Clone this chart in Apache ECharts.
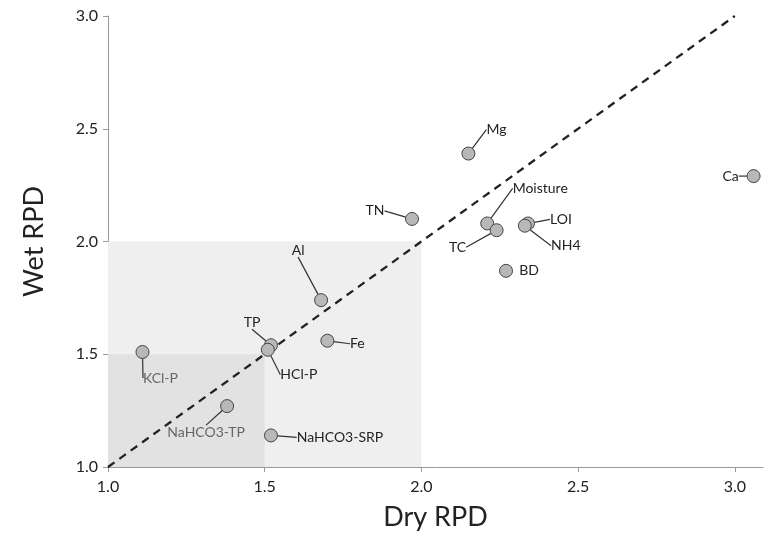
<!DOCTYPE html>
<html>
<head>
<meta charset="utf-8">
<script src="https://cdn.jsdelivr.net/npm/echarts@6/dist/echarts.min.js"></script>
<style>html,body{margin:0;padding:0;background:#fff}#c{width:771px;height:546px}</style>
</head>
<body>
<div id="c"></div>
<script>
// Data
var names = ['TN','Mg','Moisture','TC','LOI','NH4','BD','Ca','Al','TP','HCl-P','Fe','KCl-P','NaHCO3-TP','NaHCO3-SRP'];
var dryRPD = [1.97, 2.15, 2.21, 2.24, 2.34, 2.33, 2.27, 3.06, 1.68, 1.52, 1.51, 1.70, 1.11, 1.38, 1.52];
var wetRPD = [2.10, 2.39, 2.08, 2.05, 2.08, 2.07, 1.87, 2.29, 1.74, 1.54, 1.52, 1.56, 1.51, 1.27, 1.14];
var oneToOne = [[1, 1], [3, 3]];
var outerZone = [1, 2];   // RPD < 2 zone
var innerZone = [1, 1.5]; // RPD < 1.5 zone
var tickValues = [1.0, 1.5, 2.0, 2.5, 3.0];

// label offsets (pixels) for leader labels
var labelDx = [-37, 28, 53, -39, 33, 41, 23, -23, -23, -19, 31, 30, 18, -21, 69];
var labelDy = [-8, -24, -35, 17, -4, 20, 0, 0, -50, -23, 25, 3, 26, 26, 2];
var grayLabels = {'KCl-P': true, 'NaHCO3-TP': true};

var pts = names.map(function (n, i) {
  return {
    name: n,
    value: [dryRPD[i], wetRPD[i]],
    label: { color: grayLabels[n] ? '#666' : '#222' },
    labelLine: { show: n !== 'BD' }
  };
});

var chart = echarts.init(document.getElementById('c'));
var fontFam = 'Lato, "Open Sans", sans-serif';
chart.setOption({
  animation: false,
  grid: { left: 108, right: 8, top: 16, bottom: 79 },
  xAxis: {
    type: 'value', min: 1, max: 3.09, interval: 0.5,
    name: 'Dry RPD', nameLocation: 'middle', nameGap: 37,
    nameTextStyle: { fontSize: 27, color: '#222', fontFamily: fontFam },
    axisLine: { show: true, lineStyle: { color: '#999', width: 1 } },
    axisTick: { show: true, length: 5, lineStyle: { color: '#999' }, customValues: tickValues },
    axisLabel: { fontSize: 16, color: '#222', margin: 12, fontFamily: fontFam, customValues: tickValues,
      formatter: function (v) { return v.toFixed(1); } },
    splitLine: { show: false }
  },
  yAxis: {
    type: 'value', min: 1, max: 3, interval: 0.5,
    name: 'Wet RPD', nameLocation: 'middle', nameGap: 60,
    nameTextStyle: { fontSize: 27, color: '#222', fontFamily: fontFam },
    axisLine: { show: true, lineStyle: { color: '#999', width: 1 } },
    axisTick: { show: true, length: 5, lineStyle: { color: '#999' } },
    axisLabel: { fontSize: 16, color: '#222', margin: 10, fontFamily: fontFam,
      formatter: function (v) { return v.toFixed(1); } },
    splitLine: { show: false }
  },
  series: [
    {
      type: 'line', data: [], silent: true,
      markArea: {
        silent: true,
        data: [
          [{ coord: [outerZone[0], outerZone[0]], itemStyle: { color: '#efefef' } }, { coord: [outerZone[1], outerZone[1]] }],
          [{ coord: [innerZone[0], innerZone[0]], itemStyle: { color: '#e2e2e2' } }, { coord: [innerZone[1], innerZone[1]] }]
        ]
      }
    },
    {
      type: 'line', data: oneToOne, symbol: 'none', silent: true, z: 3,
      lineStyle: { color: '#222', width: 2.3, type: [8, 6] }
    },
    {
      type: 'scatter', data: pts, z: 5,
      symbol: 'circle', symbolSize: 13,
      itemStyle: { color: '#b8b8b8', borderColor: '#444', borderWidth: 1, opacity: 1 },
      label: { show: true, position: 'inside', formatter: '{b}', fontSize: 14, fontFamily: fontFam },
      labelLine: { show: true, lineStyle: { color: '#333', width: 1.2 } },
      labelLayout: function (p) {
        return { dx: labelDx[p.dataIndex], dy: labelDy[p.dataIndex] };
      }
    }
  ]
});
</script>
</body>
</html>
